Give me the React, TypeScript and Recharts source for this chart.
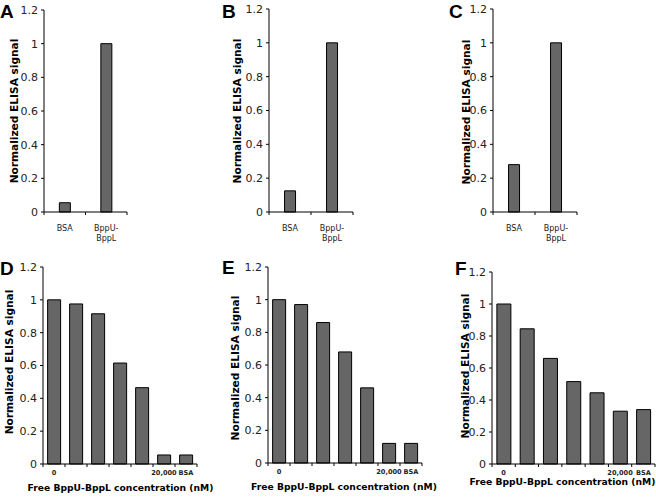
import React from 'react';
import { BarChart, Bar, XAxis, YAxis } from 'recharts';

// ---------- data ----------
const yTicks = [0, 0.2, 0.4, 0.6, 0.8, 1, 1.2];
const topCategories = ['BSA', 'BppU-BppL'];
const panelAValues = [0.055, 1.0];
const panelBValues = [0.125, 1.0];
const panelCValues = [0.28, 1.0];
const bottomCategories = ['0', '', '', '', '', '20,000', 'BSA'];
const panelDValues = [1.0, 0.975, 0.915, 0.615, 0.465, 0.055, 0.055];
const panelEValues = [1.0, 0.97, 0.86, 0.68, 0.46, 0.12, 0.12];
const panelFValues = [1.0, 0.845, 0.66, 0.515, 0.445, 0.33, 0.34];
const yTitle = 'Normalized ELISA signal';
const xTitle = 'Free BppU-BppL concentration (nM)';

// ---------- layout ----------
type Box = { x: number; y: number; w: number; h: number };
type Plot = { x0: number; x1: number; yTop: number; yBottom: number };

type PanelDef = {
  letter: string;
  letterX: number;
  letterY: number;
  box: Box;
  plot: Plot;
  categories: string[];
  values: number[];
  variant: 'top' | 'bottom';
  gap: string;
  yTitleX: number;
  yTitleY: number;
  xTitleX?: number;
  xTitleY?: number;
  xTitleSize?: number;
  labelDy: number;
};

const panels: PanelDef[] = [
  { letter: 'A', letterX: 0, letterY: 18, box: { x: 0, y: 0, w: 220, h: 250 }, plot: { x0: 44, x1: 127, yTop: 10, yBottom: 212 }, categories: topCategories, values: panelAValues, variant: 'top', gap: '37%', yTitleX: 18, yTitleY: 111, labelDy: 19 },
  { letter: 'B', letterX: 222, letterY: 18, box: { x: 220, y: 0, w: 220, h: 250 }, plot: { x0: 269, x1: 353, yTop: 9, yBottom: 212 }, categories: topCategories, values: panelBValues, variant: 'top', gap: '37%', yTitleX: 241, yTitleY: 111, labelDy: 19 },
  { letter: 'C', letterX: 449, letterY: 18, box: { x: 440, y: 0, w: 216, h: 250 }, plot: { x0: 493, x1: 577, yTop: 9, yBottom: 212 }, categories: topCategories, values: panelCValues, variant: 'top', gap: '37%', yTitleX: 470, yTitleY: 112, labelDy: 19 },
  { letter: 'D', letterX: 0, letterY: 275, box: { x: 0, y: 250, w: 220, h: 247 }, plot: { x0: 43, x1: 197, yTop: 267, yBottom: 464 }, categories: bottomCategories, values: panelDValues, variant: 'bottom', gap: '21%', yTitleX: 13, yTitleY: 362, xTitleX: 120.5, xTitleY: 490.5, xTitleSize: 9.2, labelDy: 11 },
  { letter: 'E', letterX: 222, letterY: 274, box: { x: 220, y: 250, w: 220, h: 247 }, plot: { x0: 268, x1: 422, yTop: 267, yBottom: 463 }, categories: bottomCategories, values: panelEValues, variant: 'bottom', gap: '21%', yTitleX: 239, yTitleY: 368, xTitleX: 344, xTitleY: 490, xTitleSize: 9.2, labelDy: 11 },
  { letter: 'F', letterX: 455, letterY: 275, box: { x: 440, y: 250, w: 216, h: 247 }, plot: { x0: 492, x1: 655, yTop: 272, yBottom: 464 }, categories: bottomCategories, values: panelFValues, variant: 'bottom', gap: '21%', yTitleX: 469, yTitleY: 366, xTitleX: 562.5, xTitleY: 485, xTitleSize: 9.2, labelDy: 10.5 },
];

const FONT = '"DejaVu Sans", Verdana, sans-serif';
const X_AXIS_H = 20;

function makeXTick(p: PanelDef) {
  const n = p.categories.length;
  const band = (p.plot.x1 - p.plot.x0) / n;
  return (props: any) => {
    const { x, y, index } = props;
    const label = p.categories[index] ?? '';
    const left = x - band / 2;
    const right = x + band / 2;
    const lines: React.ReactNode[] = [];
    lines.push(<line key="l" x1={left} x2={left} y1={y} y2={y + 3} stroke="#000" strokeWidth={1} />);
    if (index === n - 1) {
      lines.push(<line key="r" x1={right} x2={right} y1={y} y2={y + 3} stroke="#000" strokeWidth={1} />);
    }
    let textEl: React.ReactNode = null;
    if (p.variant === 'top') {
      const dash = label.indexOf('-');
      const parts = dash >= 0 ? [label.slice(0, dash + 1), label.slice(dash + 1)] : [label];
      textEl = (
        <text x={x} y={y + p.labelDy} textAnchor="middle" fontFamily={FONT} fontSize={8} fill="#222">
          {parts.map((t, i) => (
            <tspan key={i} x={x} dy={i === 0 ? 0 : 10}>{t}</tspan>
          ))}
        </text>
      );
    } else if (label) {
      textEl = (
        <text x={x} y={y + p.labelDy} textAnchor="middle" fontFamily={FONT} fontSize={6.6} fontWeight="bold" fill="#222">
          {label}
        </text>
      );
    }
    return (
      <g>
        {lines}
        {textEl}
      </g>
    );
  };
}

function Panel({ p }: { p: PanelDef }) {
  const data = p.categories.map((c, i) => ({ idx: i, cat: c, value: p.values[i] }));
  const yAxisWidth = p.plot.x0 - p.box.x;
  const margin = {
    top: p.plot.yTop - p.box.y,
    right: p.box.x + p.box.w - p.plot.x1,
    left: 0,
    bottom: p.box.y + p.box.h - p.plot.yBottom - X_AXIS_H,
  };
  return (
    <div style={{ position: 'absolute', left: p.box.x, top: p.box.y, width: p.box.w, height: p.box.h }}>
      <BarChart width={p.box.w} height={p.box.h} data={data} margin={margin} barCategoryGap={p.gap}>
        <XAxis
          dataKey="idx"
          type="category"
          height={X_AXIS_H}
          interval={0}
          tickLine={false}
          tickSize={0}
          tickMargin={0}
          axisLine={{ stroke: '#000', strokeWidth: 1 }}
          tick={makeXTick(p)}
        />
        <YAxis
          type="number"
          domain={[0, 1.2]}
          ticks={yTicks}
          interval={0}
          width={yAxisWidth}
          tickSize={3}
          tickMargin={3}
          axisLine={{ stroke: '#000', strokeWidth: 1 }}
          tickLine={{ stroke: '#000', strokeWidth: 1 }}
          tick={{ fill: '#222', fontSize: 11, fontFamily: FONT }}
        />
        <Bar dataKey="value" fill="#666666" stroke="#000" strokeWidth={1} isAnimationActive={false} />
      </BarChart>
    </div>
  );
}

export default function App() {
  return (
    <div style={{ position: 'absolute', left: 0, top: 0, width: 656, height: 497, background: '#fff', overflow: 'hidden' }}>
      {panels.map((p) => (
        <Panel key={p.letter} p={p} />
      ))}
      <svg width={656} height={497} style={{ position: 'absolute', left: 0, top: 0, pointerEvents: 'none' }}>
        {panels.map((p) => (
          <g key={p.letter}>
            <text x={p.letterX} y={p.letterY} fontFamily='"Liberation Sans", Arial, sans-serif' fontWeight="bold" fontSize={19} fill="#000">
              {p.letter}
            </text>
            <text
              x={p.yTitleX}
              y={p.yTitleY}
              transform={`rotate(-90, ${p.yTitleX}, ${p.yTitleY})`}
              textAnchor="middle"
              fontFamily={FONT}
              fontWeight="bold"
              fontSize={10.6}
              fill="#000"
            >
              {yTitle}
            </text>
            {p.xTitleX !== undefined && (
              <text x={p.xTitleX} y={p.xTitleY} textAnchor="middle" fontFamily={FONT} fontWeight="bold" fontSize={p.xTitleSize} fill="#000">
                {xTitle}
              </text>
            )}
          </g>
        ))}
      </svg>
    </div>
  );
}
